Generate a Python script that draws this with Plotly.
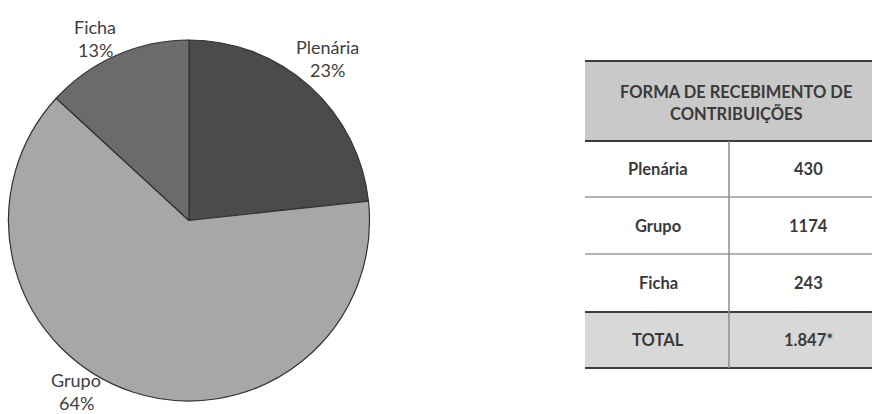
import plotly.graph_objects as go

# Data
categories = ["Plenária", "Grupo", "Ficha"]
contributions = [430, 1174, 243]
slice_colors = ["#4b4b4b", "#a7a7a7", "#6b6b6b"]
table_title = ["FORMA DE RECEBIMENTO DE", "CONTRIBUIÇÕES"]
total_label = "TOTAL"

W, H = 872, 414


def px(x):
    return x / W


def py(y):
    return 1 - y / H


total = sum(contributions)
percents = [round(v / total * 100) for v in contributions]

fig = go.Figure()

fig.add_trace(go.Pie(
    labels=categories,
    values=contributions,
    sort=False,
    direction="clockwise",
    rotation=0,
    textinfo="none",
    hoverinfo="label+value+percent",
    marker=dict(colors=slice_colors, line=dict(color="#333333", width=1.2)),
    domain=dict(x=[px(6), px(372)], y=[py(401), py(40)]),
    showlegend=False,
))

annotations = []
shapes = []

# Pie labels (name above, percentage below)
label_pos = {"Plenária": (327, 47), "Grupo": (76, 380), "Ficha": (95, 27)}
for name, pct in zip(categories, percents):
    lx, ly = label_pos[name]
    for txt, yy in ((name, ly), (f"{pct}%", ly + 23)):
        annotations.append(dict(
            x=px(lx), y=py(yy), xref="paper", yref="paper",
            text=txt, showarrow=False, xanchor="center", yanchor="middle",
            font=dict(family="Lato, Carlito, sans-serif", size=18, color="#404040"),
        ))

# Table geometry
tx0, tx1, tdiv = 585, 875, 729
head_top, head_bot = 61, 141
row_lines = [141, 197, 254, 312, 368]

shapes.append(dict(type="rect", xref="paper", yref="paper",
                   x0=px(tx0), x1=px(tx1), y0=py(head_bot), y1=py(head_top),
                   fillcolor="#c9c9c9", line=dict(width=0), layer="below"))
shapes.append(dict(type="rect", xref="paper", yref="paper",
                   x0=px(tx0), x1=px(tx1), y0=py(row_lines[-1]), y1=py(row_lines[-2]),
                   fillcolor="#d8d8d8", line=dict(width=0), layer="below"))

dark = dict(color="#3c3c3c", width=2)
light = dict(color="#9c9c9c", width=1.5)
for yy, ln in ((head_top, dark), (head_bot, dark), (row_lines[1], light),
               (row_lines[2], light), (row_lines[3], dark), (row_lines[4], dark)):
    shapes.append(dict(type="line", xref="paper", yref="paper",
                       x0=px(tx0), x1=px(tx1), y0=py(yy), y1=py(yy), line=ln))
shapes.append(dict(type="line", xref="paper", yref="paper",
                   x0=px(tdiv), x1=px(tdiv), y0=py(head_bot), y1=py(row_lines[-1]),
                   line=dict(color="#8c8c8c", width=1.5)))

bold_font = dict(family="Lato, Carlito, sans-serif", size=16.5, color="#3a3a3a")

# Header text
for txt, yy in zip(table_title, (92, 113)):
    annotations.append(dict(x=px(736), y=py(yy), xref="paper", yref="paper",
                            text=f"<b>{txt}</b>", showarrow=False,
                            xanchor="center", yanchor="middle",
                            font=bold_font))

# Body rows
total_text = f"{total:,}".replace(",", ".") + "*"
row_names = categories + [total_label]
row_values = [str(v) for v in contributions] + [total_text]
for i, (name, val) in enumerate(zip(row_names, row_values)):
    yc = (row_lines[i] + row_lines[i + 1]) / 2
    annotations.append(dict(x=px(658), y=py(yc), xref="paper", yref="paper",
                            text=f"<b>{name}</b>", showarrow=False,
                            xanchor="center", yanchor="middle",
                            font=bold_font))
    annotations.append(dict(x=px(808), y=py(yc), xref="paper", yref="paper",
                            text=f"<b>{val}</b>", showarrow=False,
                            xanchor="center", yanchor="middle",
                            font=bold_font))

fig.update_layout(
    width=W, height=H,
    margin=dict(l=0, r=0, t=0, b=0),
    paper_bgcolor="white",
    plot_bgcolor="white",
    annotations=annotations,
    shapes=shapes,
)

fig.write_html("out.html")
